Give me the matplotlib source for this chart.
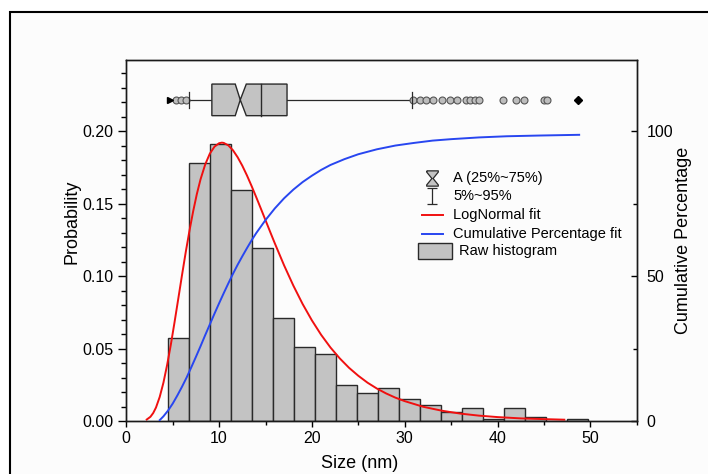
import numpy as np
import matplotlib
matplotlib.use("Agg")
import matplotlib.pyplot as plt
from matplotlib.patches import Polygon, Rectangle
from matplotlib.path import Path
from matplotlib.ticker import MultipleLocator, FormatStrFormatter

plt.rcParams["font.family"] = ["Liberation Sans", "DejaVu Sans"]

# ── Size histogram (relative frequency per bin) ───────────────────────────────
bin_edges = [4.54, 6.80, 9.07, 11.33, 13.59, 15.86, 18.12, 20.38, 22.64, 24.91,
             27.17, 29.43, 31.70, 33.96, 36.22, 38.49, 40.75, 43.01, 45.27,
             47.54, 49.80]
probability = [0.057, 0.178, 0.191, 0.159, 0.119, 0.071, 0.051, 0.046, 0.025,
               0.019, 0.023, 0.015, 0.011, 0.006, 0.009, 0.0015, 0.009, 0.003,
               0.0, 0.0015]

# ── LogNormal fit curve ───────────────────────────────────────────────────────
fit_x = [2.2, 2.6, 2.9, 3.2, 3.6, 4.0, 4.4, 4.8, 5.2, 5.6, 6.0, 6.4, 6.8, 7.2,
         7.6, 8.0, 8.5, 9.0, 9.5, 10.0, 10.3, 10.5, 11.0, 11.5, 12.0, 12.5,
         13.0, 13.5, 14.0, 14.5, 15.0, 15.5, 16.0, 17.0, 18.0, 19.0, 20.0,
         21.0, 22.0, 23.0, 24.0, 25.0, 26.0, 27.0, 28.0, 29.0, 30.0, 32.0,
         34.0, 36.0, 38.0, 40.0, 42.5, 45.0, 47.2]
fit_p = [0.0010, 0.0029, 0.0055, 0.0093, 0.0166, 0.0264, 0.0387, 0.0527,
         0.0682, 0.0843, 0.1005, 0.1163, 0.1310, 0.1445, 0.1565, 0.1667,
         0.1769, 0.1844, 0.1892, 0.1916, 0.1920, 0.1918, 0.1901, 0.1867,
         0.1819, 0.1761, 0.1694, 0.1621, 0.1544, 0.1465, 0.1385, 0.1305,
         0.1226, 0.1074, 0.0934, 0.0807, 0.0694, 0.0594, 0.0507, 0.0432,
         0.0367, 0.0312, 0.0264, 0.0224, 0.0190, 0.0161, 0.0137, 0.0098,
         0.0071, 0.0051, 0.0037, 0.0027, 0.0018, 0.0013, 0.0009]

# ── Cumulative percentage fit ─────────────────────────────────────────────────
cum_x = [3.6, 4.0, 4.5, 5.0, 5.5, 6.0, 6.5, 7.0, 7.5, 8.0, 8.5, 9.0, 9.5, 10.0,
         10.5, 11.0, 11.5, 12.0, 12.5, 13.0, 13.5, 14.0, 15.0, 16.0, 17.0,
         18.0, 19.0, 20.0, 21.0, 22.0, 23.5, 25.0, 27.0, 29.0, 31.0, 33.0,
         35.0, 38.0, 41.0, 44.5, 48.8]
cum_pct = [0.3, 1.6, 3.6, 6.0, 8.8, 11.8, 15.0, 18.5, 22.1, 25.8, 29.6, 33.3,
           37.0, 40.6, 44.1, 47.5, 50.8, 53.9, 56.8, 59.6, 62.3, 64.8, 69.3,
           73.3, 76.8, 79.8, 82.4, 84.6, 86.6, 88.3, 90.3, 92.0, 93.7, 95.0,
           95.9, 96.7, 97.2, 97.8, 98.2, 98.45, 98.7]

# ── Box chart statistics ──────────────────────────────────────────────────────
q1, q3 = 9.22, 17.32
median, notch_lo, notch_hi = 12.28, 11.74, 12.93
mean_size = 14.47
p5, p95 = 6.77, 30.82
size_min, size_max = 4.72, 48.64
low_outliers = [5.37, 5.91, 6.45]
high_outliers = [30.89, 31.61, 32.33, 33.05, 34.06, 34.88, 35.68, 36.65, 37.04,
                 37.55, 38.01, 40.60, 41.98, 42.87, 44.97, 45.32]

BAR_FACE = "#c3c3c3"
EDGE = "#2a2a2a"
RED = "#f01010"
BLUE = "#2846f0"

fig = plt.figure(figsize=(7.08, 4.74), dpi=100)
fig.patch.set_facecolor("white")
# page frame (left and top edges only fall inside the image)
fig.add_artist(Rectangle((10 / 708, -0.05), 0.99, 462 / 474 + 0.05,
                         transform=fig.transFigure, facecolor="#fcfcfc",
                         edgecolor="black", lw=1.5, zorder=-10))

ax = fig.add_axes([126.3 / 708, 53 / 474, 510.4 / 708, 361 / 474])
ax.patch.set_alpha(0)

# histogram
edges = np.array(bin_edges)
ax.bar(edges[:-1], probability, width=np.diff(edges), align="edge",
       color=BAR_FACE, edgecolor=EDGE, linewidth=1.0, zorder=2)

# lognormal fit
ax.plot(fit_x, fit_p, color=RED, lw=1.4, zorder=4)

# box chart along the top
by, bh, cap = 0.2215, 0.0109, 0.0057
box = Polygon([(q1, by - bh), (q1, by + bh), (notch_lo, by + bh), (median, by),
               (notch_hi, by + bh), (q3, by + bh), (q3, by - bh),
               (notch_hi, by - bh), (median, by), (notch_lo, by - bh)],
              closed=True, facecolor=BAR_FACE, edgecolor=EDGE, lw=1.0, zorder=5)
ax.add_patch(box)
ax.plot([mean_size, mean_size], [by - bh, by + bh], color=EDGE, lw=1.0, zorder=6)
ax.plot([p5, q1], [by, by], color=EDGE, lw=0.9, zorder=4)
ax.plot([q3, p95], [by, by], color=EDGE, lw=0.9, zorder=4)
for w in (p5, p95):
    ax.plot([w, w], [by - cap, by + cap], color=EDGE, lw=0.9, zorder=6)
ax.plot(low_outliers + high_outliers, [by] * (len(low_outliers) + len(high_outliers)),
        ls="none", marker="o", ms=5, mfc="#bdbdbd", mec="#555555", mew=0.8, zorder=5)
ax.plot([size_min], [by], ls="none", marker=">", ms=5, color="black", zorder=7)
ax.plot([size_max], [by], ls="none", marker="D", ms=4, color="black", zorder=7)

ax.set_xlim(0, 55)
ax.set_ylim(0, 0.249)
ax.xaxis.set_major_locator(MultipleLocator(10))
ax.xaxis.set_minor_locator(MultipleLocator(5))
ax.yaxis.set_major_locator(MultipleLocator(0.05))
ax.yaxis.set_minor_locator(MultipleLocator(0.01))
ax.yaxis.set_major_formatter(FormatStrFormatter("%.2f"))
ax.tick_params(axis="x", which="major", direction="out", length=4, width=1,
               labelsize=11.5, pad=3)
ax.tick_params(axis="x", which="minor", direction="out", length=3, width=1)
ax.tick_params(axis="y", which="major", direction="out", length=5.5, width=1,
               labelsize=11.5, pad=4)
ax.tick_params(axis="y", which="minor", direction="out", length=3.5, width=1)
for s in ax.spines.values():
    s.set_linewidth(1.0)
    s.set_color("#1a1a1a")

ax.set_xlabel("Size (nm)", fontsize=13)
ax.xaxis.set_label_coords(0.458, -0.094)
ax.set_ylabel("Probability", fontsize=13)
ax.yaxis.set_label_coords(-0.090, 0.551)

# cumulative percentage on the right axis
ax2 = ax.twinx()
ax2.plot(cum_x, cum_pct, color=BLUE, lw=1.4, zorder=4)
ax2.set_ylim(0, 0.249 * 500)
ax2.yaxis.set_major_locator(MultipleLocator(50))
ax2.yaxis.set_minor_locator(MultipleLocator(25))
ax2.tick_params(axis="y", which="major", direction="in", length=4.5, width=1,
                labelsize=11.5, pad=7)
ax2.tick_params(axis="y", which="minor", direction="in", length=3, width=1)
for s in ax2.spines.values():
    s.set_linewidth(1.0)
    s.set_color("#1a1a1a")
ax2.set_ylabel("Cumulative Percentage", fontsize=13)
ax2.yaxis.set_label_coords(1.076, 0.499)

# legend, drawn in axes fraction
hourglass = Path([(-0.38, 0.5), (0.38, 0.5), (0.38, 0.42), (0.04, 0.0),
                  (0.38, -0.42), (0.38, -0.5), (-0.38, -0.5), (-0.38, -0.42),
                  (-0.04, 0.0), (-0.38, 0.42), (-0.38, 0.5)])
ibeam = Path([(-0.35, 0.5), (0.35, 0.5), (0, 0.5), (0, -0.5), (-0.35, -0.5),
              (0.35, -0.5)],
             [Path.MOVETO, Path.LINETO, Path.MOVETO, Path.LINETO, Path.MOVETO,
              Path.LINETO])
tx, ix = 0.641, 0.599
rows = [0.674, 0.623, 0.571, 0.519, 0.470]
labels = ["A (25%~75%)", "5%~95%", "LogNormal fit", "Cumulative Percentage fit",
          "Raw histogram"]
ax.plot([ix], [rows[0]], transform=ax.transAxes, marker=hourglass, ms=11,
        mfc=BAR_FACE, mec=EDGE, mew=0.9, ls="none", zorder=8)
ax.plot([ix], [rows[1]], transform=ax.transAxes, marker=ibeam, ms=11,
        mfc="none", mec=EDGE, mew=0.9, ls="none", zorder=8)
ax.plot([0.579, 0.621], [rows[2]] * 2, transform=ax.transAxes, color=RED, lw=1.4)
ax.plot([0.579, 0.621], [rows[3]] * 2, transform=ax.transAxes, color=BLUE, lw=1.4)
ax.add_patch(Rectangle((0.571, rows[4] - 0.022), 0.068, 0.044,
                       transform=ax.transAxes, facecolor=BAR_FACE,
                       edgecolor=EDGE, lw=1.0, zorder=8))
for i, (y, lab) in enumerate(zip(rows, labels)):
    ax.text(tx + (0.01 if i == 4 else 0), y, lab, transform=ax.transAxes,
            fontsize=10.5, va="center", ha="left", zorder=9)

fig.savefig("out.png", dpi=100)
